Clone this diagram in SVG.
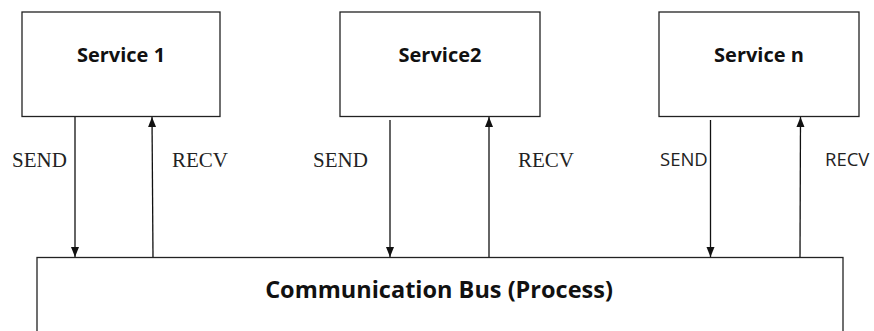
<svg xmlns="http://www.w3.org/2000/svg" width="874" height="331" viewBox="0 0 874 331">
  <defs>
    <marker id="arrow" viewBox="0 0 10 10" refX="10" refY="5" markerWidth="10" markerHeight="10" markerUnits="userSpaceOnUse" orient="auto">
      <path d="M0,1 L10,5 L0,9 Z" fill="#111"/>
    </marker>
  </defs>
  <style>
    .box { fill: #fff; stroke: #222; stroke-width: 1.3; }
    .title { font-family: "Open Sans", "Liberation Sans", sans-serif; font-weight: 700; fill: #111; text-anchor: middle; }
    .serif { font-family: "Liberation Serif", "Times New Roman", serif; font-size: 21px; fill: #222; }
    .sans { font-family: "Open Sans", "Liberation Sans", sans-serif; font-size: 18.5px; fill: #222; }
    .link { stroke: #111; stroke-width: 1.3; fill: none; marker-end: url(#arrow); }
  </style>
  <rect width="874" height="331" fill="#fff"/>

  <g id="bus">
    <rect class="box" x="37" y="257.5" width="806" height="90"/>
    <text class="title" x="439" y="298" font-size="23.5">Communication Bus (Process)</text>
  </g>

  <g id="service1">
    <rect class="box" x="22" y="12" width="198" height="104.5"/>
    <text class="title" x="121" y="62" font-size="20">Service 1</text>
  </g>

  <g id="service2">
    <rect class="box" x="340" y="12" width="200" height="104.5"/>
    <text class="title" x="440" y="62" font-size="20">Service2</text>
  </g>

  <g id="servicen">
    <rect class="box" x="659" y="12" width="200" height="104.5"/>
    <text class="title" x="759" y="62" font-size="20">Service n</text>
  </g>

  <g id="connectors">
    <line class="link" x1="75" y1="117" x2="75" y2="257"/>
    <line class="link" x1="153" y1="257" x2="152" y2="117"/>
    <line class="link" x1="390" y1="120" x2="390" y2="257"/>
    <line class="link" x1="489" y1="257" x2="489" y2="117"/>
    <line class="link" x1="710.5" y1="120" x2="710.5" y2="257"/>
    <line class="link" x1="800" y1="257" x2="800.5" y2="117"/>
    <text class="serif" x="12" y="167">SEND</text>
    <text class="serif" x="172" y="167">RECV</text>
    <text class="serif" x="313" y="167">SEND</text>
    <text class="serif" x="518" y="167">RECV</text>
    <text class="sans" x="660" y="166">SEND</text>
    <text class="sans" x="825" y="166">RECV</text>
  </g>
</svg>
